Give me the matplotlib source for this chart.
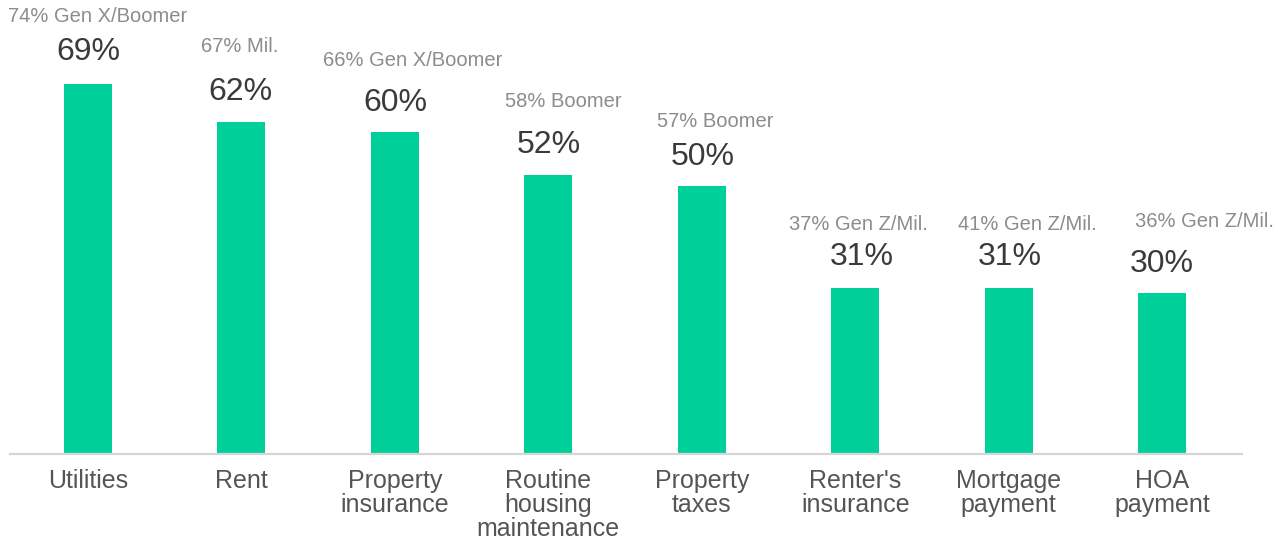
import matplotlib
matplotlib.use("Agg")
import matplotlib.pyplot as plt

categories = ["Utilities", "Rent", "Property\ninsurance", "Routine\nhousing\nmaintenance",
              "Property\ntaxes", "Renter's\ninsurance", "Mortgage\npayment", "HOA\npayment"]
values = [69, 62, 60, 52, 50, 31, 31, 30]
sub_labels = ["74% Gen X/Boomer", "67% Mil.", "66% Gen X/Boomer", "58% Boomer",
              "57% Boomer", "37% Gen Z/Mil.", "41% Gen Z/Mil.", "36% Gen Z/Mil."]

# layout: pixel offsets of the generation labels relative to bar top/centre
sub_dx = [10, -2, 18, 15, 13, 3, 19, 42]
sub_dy = [68, 75, 72, 74, 64, 63, 63, 72]
val_dx = [0, -1, 0, 0, 1, 7, 1, 0]
val_dy = [32, 30, 29, 30, 29, 31, 31, 29]

plt.rcParams['font.family'] = ['Liberation Sans', 'DejaVu Sans']
W, H = 1278, 546
fig = plt.figure(figsize=(W / 100, H / 100), dpi=100)
ax = fig.add_axes([10 / W, (H - 454) / H, 1232 / W, 454 / H])

x = list(range(len(categories)))
ax.bar(x, values, width=0.313, color="#00CF9A", zorder=2)
ax.set_xlim(-0.508, 7.52)
ax.set_ylim(0, 84.7)

pt = 0.72  # points per pixel at 100 dpi
for i, v in enumerate(values):
    ax.annotate(f"{v}%", (i, v), xytext=(val_dx[i] * pt, val_dy[i] * pt),
                textcoords="offset points", ha="center", va="center",
                fontsize=23, color="#3a3a3a")
    ax.annotate(sub_labels[i], (i, v), xytext=(sub_dx[i] * pt, sub_dy[i] * pt),
                textcoords="offset points", ha="center", va="center",
                fontsize=14.5, color="#8c8c8c")

ax.set_xticks(x)
ax.set_xticklabels(categories, fontsize=18, color="#555555", linespacing=1.0)
ax.tick_params(axis="x", length=0, pad=11)
ax.set_yticks([])
for s in ["top", "right", "left"]:
    ax.spines[s].set_visible(False)
ax.spines["bottom"].set_color("#d6d6d6")
ax.spines["bottom"].set_linewidth(1.6)

fig.savefig("out.png", dpi=100)
